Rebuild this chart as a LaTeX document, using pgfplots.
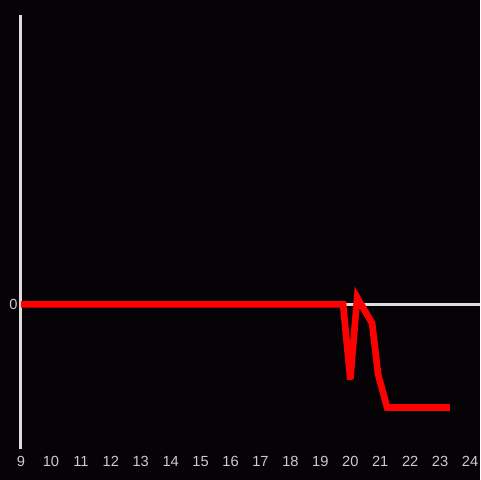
\documentclass[border=0pt]{standalone}
\usepackage{fontspec}
\setmainfont{Liberation Sans}
\usepackage{pgfplots}
\pgfplotsset{compat=1.18}
\definecolor{bg}{HTML}{050306}
\definecolor{axisgray}{HTML}{DDDDDD}
\definecolor{ticktext}{HTML}{CCCCCC}
\begin{document}
\begin{tikzpicture}
\fill[bg] (0,0) rectangle (360pt,360pt);
\useasboundingbox (0,0) rectangle (360pt,360pt);
\begin{axis}[
  at={(15.75pt,23.6pt)}, anchor=south west,
  scale only axis, width=344.25pt, height=325.1pt,
  xmin=9, xmax=24.333, ymin=-14.4, ymax=28.9,
  axis line style={draw=none}, tick style={draw=none},
  xtick={9,...,24}, ytick={0},
  tick label style={font=\fontsize{11}{13}\selectfont, text=ticktext},
  xticklabel style={yshift=-2.5pt},
  yticklabel style={xshift=1pt},
  /pgf/number format/assume math mode=true,
  clip=false,
]
\draw[axisgray, line width=2.25pt] (axis cs:9,-14.4) -- (axis cs:9,28.9);
\draw[axisgray, line width=2.25pt] (axis cs:9,0) -- (axis cs:24.333,0);
\addplot[red, line width=5pt, mark=none] coordinates {
  (9,0) (19.76,0) (20.0,-7.5) (20.23,0.7) (20.73,-1.9) (20.93,-7.0) (21.23,-10.3) (23.33,-10.3)
};
\end{axis}
\end{tikzpicture}
\end{document}
